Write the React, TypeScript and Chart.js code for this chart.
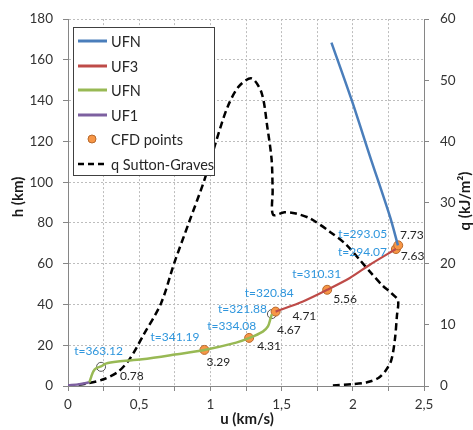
import React, { useEffect, useRef } from 'react';
import { Chart, registerables } from 'chart.js';

Chart.register(...registerables);

// ---------- data ----------
const ufnUpperU = [1.85, 1.99, 2.12, 2.26, 2.317];
const ufnUpperH = [168.5, 140.7, 112.8, 83.3, 69.0];

const uf3U = [1.458, 1.65, 1.82, 1.979, 2.12, 2.303];
const uf3H = [36.5, 41.5, 47.2, 53.0, 59.5, 67.2];

const ufnLowerU = [0.15, 0.163, 0.178, 0.2, 0.232, 0.265, 0.35, 0.521, 0.75, 0.958, 1.181, 1.275, 1.368, 1.404, 1.423, 1.432];
const ufnLowerH = [1.8, 4.5, 7.2, 8.8, 9.6, 11.0, 12.0, 13.1, 15.4, 17.7, 21.3, 23.6, 26.7, 29.2, 33.3, 35.3];

const uf1U = [0, 0.08, 0.15];
const uf1H = [0.3, 0.9, 1.8];

const cfdU = [0.232, 0.958, 1.272, 1.432, 1.458, 1.82, 2.303, 2.319];
const cfdH = [9.4, 17.7, 23.6, 35.3, 36.5, 47.2, 67.2, 69.0];
const cfdTimes = ['t=363.12', 't=341.19', 't=334.08', 't=321.88', 't=320.84', 't=310.31', 't=294.07', 't=293.05'];
const cfdValues = ['0.78', '3.29', '4.31', '4.67', '4.71', '5.56', '7.63', '7.73'];
const cfdHollow = [true, false, false, true, false, false, false, false];

const qU = [1.86, 2.0, 2.1, 2.18, 2.23, 2.27, 2.295, 2.31, 2.317, 2.27, 2.21, 2.12, 2.05, 1.95, 1.84, 1.7, 1.6, 1.52, 1.44, 1.437, 1.43, 1.40, 1.36, 1.29, 1.2, 1.12, 1.04, 0.958, 0.852, 0.746, 0.653, 0.523, 0.48, 0.42, 0.35, 0.25, 0.13, 0];
const qVal = [0.1, 0.3, 0.6, 1.3, 2.5, 4.2, 7.5, 11.5, 14.0, 15.2, 16.4, 18.7, 20.6, 23.2, 25.2, 27.4, 28.2, 28.4, 28.0, 32, 37, 42.3, 47.9, 50.3, 49.0, 45.6, 40.0, 33.7, 26.9, 20.1, 13.5, 8.06, 6.2, 4.0, 2.3, 1.1, 0.4, 0];

const legendLabels = ['UFN', 'UF3', 'UFN', 'UF1', 'CFD points', 'q Sutton-Graves'];

// label placement (pixels relative to the point) – layout only
const timeLabelOffsets = [[22, -16], [-5, -13], [7, -12], [-5, -5], [18, -18], [14, -16], [-9, 3], [-11, -11]];
const valueLabelOffsets = [[19, 9], [2, 12], [8, 8], [5, 16], [17, 5], [6, 9], [4.7, 7.4], [1.7, -10.7]];

// ---------- styles ----------
const BLUE = '#4A7EBB';
const RED = '#BE4B48';
const GREEN = '#98B954';
const PURPLE = '#7D60A0';
const ORANGE = '#F79646';
const ORANGE_BORDER = '#B8692C';
const LABEL_BLUE = '#2F96DD';
const FONT = 'Lato, "Noto Sans", sans-serif';

const zip = (xs: number[], ys: number[]) => xs.map((x, i) => ({ x, y: ys[i] }));

const overlayPlugin = {
  id: 'overlay',
  afterDatasetsDraw(chart: any) {
    const ctx = chart.ctx as CanvasRenderingContext2D;
    // data labels
    const meta = chart.getDatasetMeta(4);
    ctx.save();
    ctx.font = `12px ${FONT}`;
    ctx.textBaseline = 'middle';
    meta.data.forEach((el: any, i: number) => {
      const [tdx, tdy] = timeLabelOffsets[i];
      ctx.fillStyle = LABEL_BLUE;
      ctx.textAlign = 'right';
      ctx.fillText(cfdTimes[i], el.x + tdx, el.y + tdy);
      const [vdx, vdy] = valueLabelOffsets[i];
      ctx.fillStyle = '#262626';
      ctx.textAlign = 'left';
      ctx.fillText(cfdValues[i], el.x + vdx, el.y + vdy);
    });
    ctx.restore();

    // legend
    const lx = 73, ly = 27, lw = 141, lh = 148;
    ctx.save();
    ctx.fillStyle = '#ffffff';
    ctx.fillRect(lx, ly, lw, lh);
    ctx.strokeStyle = '#404040';
    ctx.lineWidth = 1;
    ctx.strokeRect(lx + 0.5, ly + 0.5, lw, lh);
    const colors = [BLUE, RED, GREEN, PURPLE, ORANGE, '#000'];
    const rowY = [41, 66, 90, 115, 139, 164];
    ctx.font = `14.5px ${FONT}`;
    ctx.textBaseline = 'middle';
    ctx.textAlign = 'left';
    legendLabels.forEach((lab, i) => {
      const y = rowY[i];
      if (i === 4) {
        ctx.beginPath();
        ctx.arc(92, y, 4, 0, Math.PI * 2);
        ctx.fillStyle = ORANGE;
        ctx.fill();
        ctx.strokeStyle = ORANGE_BORDER;
        ctx.lineWidth = 1;
        ctx.stroke();
      } else {
        ctx.beginPath();
        ctx.moveTo(78, y);
        ctx.lineTo(107, y);
        ctx.strokeStyle = colors[i];
        ctx.lineWidth = i === 5 ? 2.5 : 3;
        ctx.setLineDash(i === 5 ? [6, 4] : []);
        ctx.stroke();
        ctx.setLineDash([]);
      }
      ctx.fillStyle = '#262626';
      ctx.fillText(lab, 111, y + 1);
    });
    ctx.restore();

    // axis titles
    ctx.save();
    ctx.fillStyle = '#1a1a1a';
    ctx.font = `bold 15px ${FONT}`;
    ctx.textAlign = 'center';
    ctx.textBaseline = 'middle';
    ctx.fillText('u (km/s)', 247, 419);
    ctx.save();
    ctx.translate(18, 197);
    ctx.rotate(-Math.PI / 2);
    ctx.fillText('h (km)', 0, 0);
    ctx.restore();
    ctx.save();
    ctx.translate(465, 201);
    ctx.rotate(-Math.PI / 2);
    ctx.fillText('q (kJ/m²)', 0, 0);
    ctx.restore();
    ctx.restore();
  },
};

export default function App() {
  const ref = useRef<HTMLCanvasElement>(null);
  useEffect(() => {
    document.body.style.margin = '0';
    const canvas = ref.current;
    if (!canvas) return;
    const tickFont = { family: FONT, size: 13.5 };
    const chart = new Chart(canvas, {
      type: 'scatter',
      data: {
        datasets: [
          { label: 'UFN', data: zip(ufnUpperU, ufnUpperH), showLine: true, borderColor: BLUE, borderWidth: 2.5, pointRadius: 0, tension: 0.3, yAxisID: 'y' },
          { label: 'UF3', data: zip(uf3U, uf3H), showLine: true, borderColor: RED, borderWidth: 2.2, pointRadius: 0, tension: 0.3, yAxisID: 'y' },
          { label: 'UFN', data: zip(ufnLowerU, ufnLowerH), showLine: true, borderColor: GREEN, borderWidth: 2.5, pointRadius: 0, tension: 0.3, yAxisID: 'y' },
          { label: 'UF1', data: zip(uf1U, uf1H), showLine: true, borderColor: PURPLE, borderWidth: 2.5, pointRadius: 0, tension: 0.3, yAxisID: 'y' },
          {
            label: 'CFD points', data: zip(cfdU, cfdH), showLine: false, pointRadius: 4.5,
            backgroundColor: cfdHollow.map((h) => (h ? '#ffffff' : ORANGE)),
            borderColor: cfdHollow.map((h) => (h ? '#555555' : ORANGE_BORDER)),
            borderWidth: 1, yAxisID: 'y',
          },
          { label: 'q Sutton-Graves', data: zip(qU, qVal), showLine: true, borderColor: '#000', borderWidth: 2.5, borderDash: [7, 4], pointRadius: 0, tension: 0.3, yAxisID: 'q' },
        ],
      },
      options: {
        animation: false,
        responsive: false,
        layout: { padding: { top: 19, left: 0, right: 0, bottom: 0 } },
        plugins: { legend: { display: false }, tooltip: { enabled: false } },
        scales: {
          x: {
            type: 'linear', min: 0, max: 2.5,
            afterFit: (s: any) => { s.height = 44; },
            ticks: {
              stepSize: 0.25, autoSkip: false, maxRotation: 0, padding: 6, color: '#333333', font: tickFont,
              callback: (v: any) => {
                const n = Number(v);
                return Math.abs(n * 2 - Math.round(n * 2)) < 1e-9 ? String(Math.round(n * 2) / 2).replace('.', ',') : '';
              },
            },
            grid: { color: '#bdbdbd', tickLength: 5, tickColor: '#868686', tickBorderDash: [] },
            border: { color: '#868686', width: 1, dash: [2, 2] },
          },
          y: {
            type: 'linear', position: 'left', min: 0, max: 180,
            afterFit: (s: any) => { s.width = 68; },
            ticks: { stepSize: 20, padding: 10, color: '#333333', font: tickFont },
            grid: { color: '#bdbdbd', tickLength: 5, tickColor: '#868686', tickBorderDash: [] },
            border: { color: '#868686', width: 1, dash: [2, 2] },
          },
          q: {
            type: 'linear', position: 'right', min: 0, max: 60,
            afterFit: (s: any) => { s.width = 49; },
            ticks: { stepSize: 10, padding: 11, color: '#333333', font: tickFont },
            grid: { drawOnChartArea: false, tickLength: 5, tickColor: '#868686' },
            border: { color: '#868686', width: 1 },
          },
        },
      },
      plugins: [overlayPlugin],
    } as any);
    return () => chart.destroy();
  }, []);
  return (
    <div style={{ position: 'absolute', left: 0, top: 0, width: 473, height: 430, background: '#fff' }}>
      <canvas ref={ref} width={473} height={430} />
    </div>
  );
}
